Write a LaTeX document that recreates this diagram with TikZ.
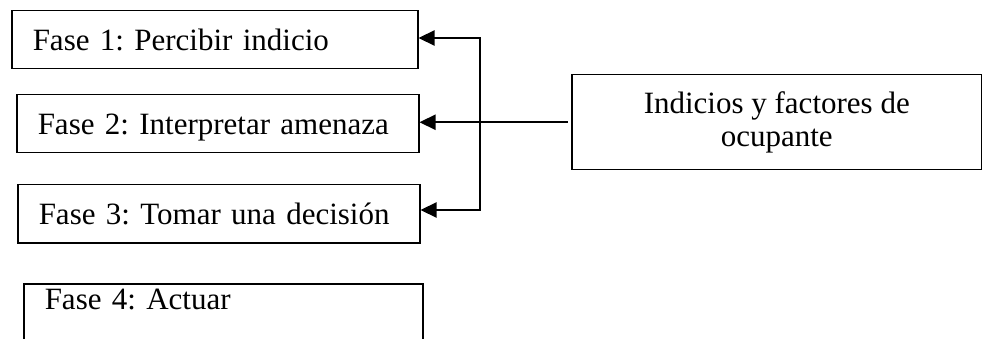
\documentclass[tikz,border=0pt]{standalone}
\usepackage{fontspec}
\setmainfont{Liberation Serif}
\usetikzlibrary{arrows.meta}
\frenchspacing

\begin{document}
\begin{tikzpicture}[x=1pt, y=-1pt,
  fase/.style={draw, line width=1.5pt, anchor=north west, inner xsep=21pt, inner ysep=0pt,
    minimum height=58pt, text height=21pt, text depth=0pt, align=left,
    font=\fontsize{31}{34}\selectfont},
  flecha/.style={line width=2.2pt, line cap=rect, -{Triangle[length=16pt, width=15pt]}}]

  \clip (0,0) rectangle (982,339);

  % Phase boxes
  \node[fase, text width=364pt] (fase1) at (11,10) {Fase 1: Percibir indicio};
  \node[fase, text width=360pt] (fase2) at (16,94) {Fase 2: Interpretar amenaza};
  \node[fase, text width=360pt] (fase3) at (17,184) {Fase 3: Tomar una decisión};
  \node[fase, text width=357pt, minimum height=0pt, inner ysep=5pt, text depth=40pt] (fase4) at (23,283) {Fase 4: Actuar};

  % Cue box
  \node[draw, line width=1.5pt, anchor=north west, minimum width=410pt, minimum height=95pt,
    align=center, font=\fontsize{31}{33}\selectfont] (indicios) at (571,74) {Indicios y factores de\\ocupante};

  % Bus line
  \coordinate (arriba) at (480,38);
  \coordinate (abajo) at (480,210);

  \draw[flecha] (abajo) -- (arriba) -- (fase1.east |- arriba);
  \draw[flecha] (abajo) -- (fase3.east |- abajo);
  \draw[flecha, shorten <=4pt] (indicios.west) -- (fase2.east |- indicios.west);
\end{tikzpicture}
\end{document}
